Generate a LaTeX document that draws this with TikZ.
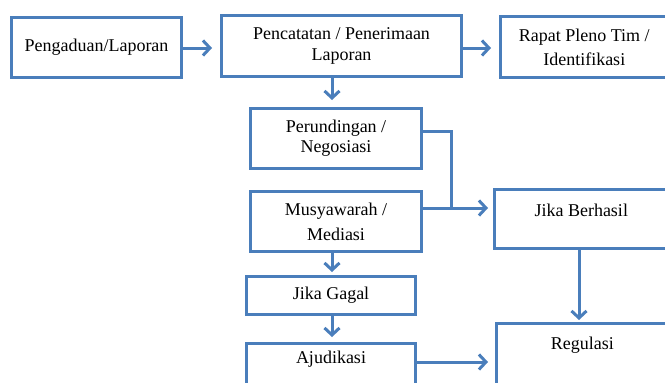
\documentclass[tikz,border=0pt]{standalone}
\usepackage{fontspec}
\setmainfont{Liberation Serif}
\usetikzlibrary{arrows.meta,calc}
\definecolor{bl}{RGB}{74,126,187}
\begin{document}
\begin{tikzpicture}[x=1pt,y=-1pt,
  box/.style={draw=bl, line width=3pt, rectangle, inner sep=0pt, align=center,
    font=\fontsize{18}{22}\selectfont},
  txt/.style={inner sep=0pt, align=center, font=\fontsize{18}{22}\selectfont},
  conn/.style={draw=bl, line width=3pt},
  arr/.style={conn, -{Straight Barb[length=7pt,width=15pt]}}]
\useasboundingbox (0,0) rectangle (665,383);
\clip (0,0) rectangle (665,383);

\node[box, minimum width=170pt, minimum height=60pt] (b1) at (96.5,47.5) {Pengaduan/Laporan};
\node[box, minimum width=240pt, minimum height=61pt] (b2) at (341.5,46) {Pencatatan / Penerimaan\\[-1pt]Laporan};
\node[box, minimum width=167.5pt, minimum height=61pt] (b3) at (584.25,47) {Rapat Pleno Tim /\\[2pt]Identifikasi};
\node[box, minimum width=171pt, minimum height=60pt] (per) at (336,138.5) {Perundingan /\\[-2pt]Negosiasi};
\node[box, minimum width=171pt, minimum height=60pt] (mus) at (336,221.5) {Musyawarah /\\[3pt]Mediasi};
\node[box, minimum width=173.5pt, minimum height=59pt] (ber) at (581.25,219) {};
\node[txt] (bert) at (581.25,210) {Jika Berhasil};
\node[box, minimum width=169pt, minimum height=38pt] (gag) at (331,295.5) {Jika Gagal};
\node[box, minimum width=169pt, minimum height=56.5pt] (aju) at (331,371.75) {};
\node[txt] (ajut) at (331,359) {Ajudikasi};
\node[box, minimum width=171.5pt, minimum height=76.5pt] (reg) at (582.25,361.75) {};
\node[txt] (regt) at (582.25,345) {Regulasi};

\coordinate (ya) at (0,48);
\coordinate (xd) at (332,0);
\coordinate (xr) at (579,0);
\coordinate (yp) at (0,131);
\coordinate (jm) at (451,208);
\coordinate (yj) at (0,362);

\draw[arr, shorten >=8pt] (b1.east |- ya) -- (b2.west |- ya);
\draw[arr, shorten >=8pt] (b2.east |- ya) -- (b3.west |- ya);
\draw[arr, shorten >=7pt] (b2.south -| xd) -- (per.north -| xd);
\draw[conn] (per.east |- yp) -| (jm);
\draw[arr, shorten >=5pt] (mus.east |- jm) -- (ber.west |- jm);
\draw[arr, shorten >=3pt] (mus.south -| xd) -- (gag.north -| xd);
\draw[arr, shorten >=5pt] (gag.south -| xd) -- (aju.north -| xd);
\draw[arr, shorten >=7pt] (aju.east |- yj) -- (reg.west |- yj);
\draw[arr, shorten >=2pt] (ber.south -| xr) -- (reg.north -| xr);
\end{tikzpicture}
\end{document}
